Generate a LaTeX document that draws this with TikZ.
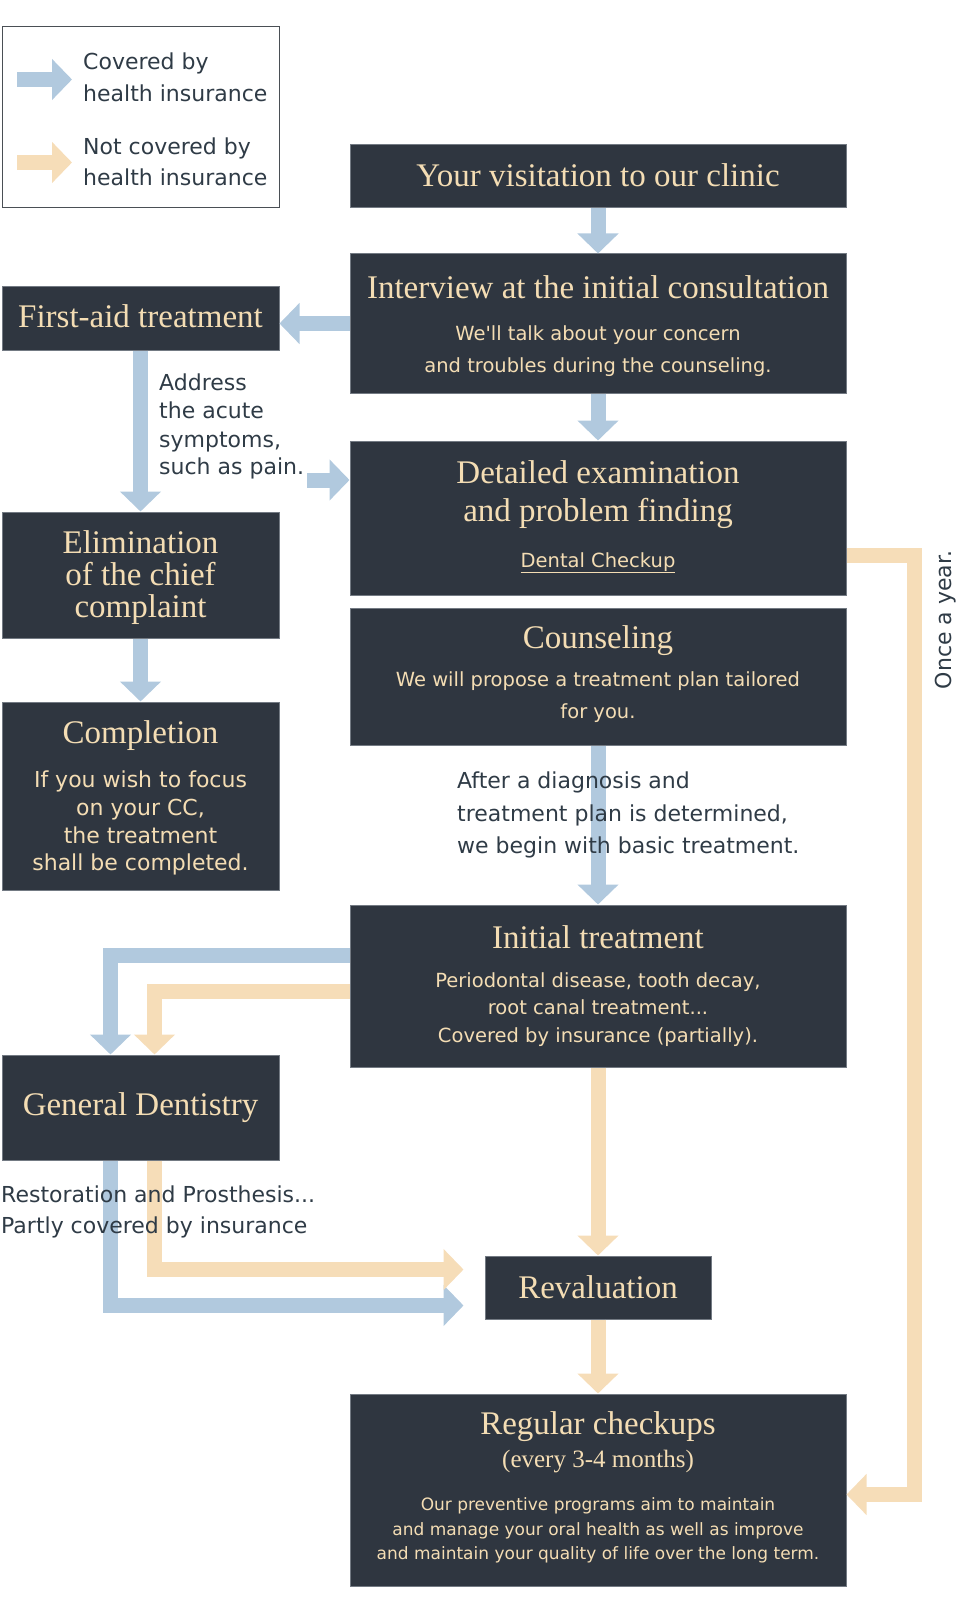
\documentclass[tikz,border=0pt]{standalone}
\usepackage{fontspec}
\setmainfont{Liberation Serif}
\newfontfamily\dvs{DejaVu Sans}
\usetikzlibrary{arrows.meta,calc}
\definecolor{boxfill}{HTML}{2F3640}
\definecolor{boxedge}{HTML}{737A83}
\definecolor{cream}{HTML}{F4DDB4}
\definecolor{ablue}{HTML}{B1C9DE}
\definecolor{aorange}{HTML}{F6DDB8}
\definecolor{darktext}{HTML}{2F3B46}
\definecolor{legendedge}{HTML}{4A4F55}
\begin{document}
\begin{tikzpicture}[x=1pt,y=-1pt,
  box/.style={draw=boxedge, line width=1pt, fill=boxfill, inner sep=0pt, rectangle},
  head/.style={text=cream, font=\fontsize{33}{33}\selectfont, anchor=base, inner sep=0pt},
  headsmall/.style={text=cream, font=\fontsize{25}{25}\selectfont, anchor=base, inner sep=0pt},
  subc/.style={text=cream, font=\dvs\fontsize{19.5}{19.5}\selectfont, anchor=base, inner sep=0pt},
  subbig/.style={text=cream, font=\dvs\fontsize{22}{22}\selectfont, anchor=base, inner sep=0pt},
  subsmall/.style={text=cream, font=\dvs\fontsize{17}{17}\selectfont, anchor=base, inner sep=0pt},
  note/.style={text=darktext, font=\dvs\fontsize{22}{22}\selectfont, anchor=base west, inner sep=0pt},
  barrow/.style={draw=ablue, line width=15pt, line join=miter, -{Triangle[width=40pt,length=20pt]}},
  oarrow/.style={draw=aorange, line width=15pt, line join=miter, -{Triangle[width=40pt,length=20pt]}}]
\useasboundingbox (0,0) rectangle (960,1613);

% legend
\node[draw=legendedge, line width=1pt, inner sep=0pt, minimum width=277pt, minimum height=181pt] (legend) at (140.5,117.5) {};
\coordinate (lbs) at (17,79.5);
\coordinate (lbe) at (72,79.5);
\coordinate (los) at (17,162.5);
\coordinate (loe) at (72,162.5);
\draw[barrow] (lbs) -- (lbe);
\draw[oarrow] (los) -- (loe);
\node[note] (lt1) at (83,70) {Covered by};
\node[note] (lt2) at (83,102) {health insurance};
\node[note] (lt3) at (83,155) {Not covered by};
\node[note] (lt4) at (83,186) {health insurance};

% boxes
\node[box, minimum width=496pt, minimum height=63pt] (visit) at (598,176.5) {};
\node[box, minimum width=496pt, minimum height=139pt] (interview) at (598,323.5) {};
\node[box, minimum width=277pt, minimum height=64pt] (firstaid) at (140.5,318) {};
\node[box, minimum width=496pt, minimum height=154pt] (detailed) at (598,518) {};
\node[box, minimum width=496pt, minimum height=137pt] (counsel) at (598,676.5) {};
\node[box, minimum width=277pt, minimum height=126pt] (elim) at (140.5,575) {};
\node[box, minimum width=277pt, minimum height=188pt] (complete) at (140.5,796) {};
\node[box, minimum width=496pt, minimum height=162pt] (initial) at (598,986) {};
\node[box, minimum width=277pt, minimum height=105pt] (gd) at (140.5,1107.5) {};
\node[box, minimum width=226pt, minimum height=63pt] (rev) at (598,1287.5) {};
\node[box, minimum width=496pt, minimum height=192pt] (regular) at (598,1490) {};

% box texts
\node[head] (visitt) at (598,187) {Your visitation to our clinic};
\node[head] (intt) at (598,298) {Interview at the initial consultation};
\node[subc] (ints1) at (598,340) {We'll talk about your concern};
\node[subc] (ints2) at (598,372) {and troubles during the counseling.};
\node[head] (fat) at (140.5,327) {First-aid treatment};
\node[head] (dett1) at (598,483) {Detailed examination};
\node[head] (dett2) at (598,521) {and problem finding};
\node[subc] (dets) at (598,567) {\underline{Dental Checkup}};
\node[head] (cout) at (598,648) {Counseling};
\node[subc] (cous1) at (598,686) {We will propose a treatment plan tailored};
\node[subc] (cous2) at (598,718) {for you.};
\node[head] (elt1) at (140.5,553) {Elimination};
\node[head] (elt2) at (140.5,585) {of the chief};
\node[head] (elt3) at (140.5,617) {complaint};
\node[head] (comt) at (140.5,743) {Completion};
\node[subbig] (coms1) at (140.5,787) {If you wish to focus};
\node[subbig] (coms2) at (140.5,815) {on your CC,};
\node[subbig] (coms3) at (140.5,843) {the treatment};
\node[subbig] (coms4) at (140.5,870) {shall be completed.};
\node[head] (init) at (598,948) {Initial treatment};
\node[subc] (inis1) at (598,987) {Periodontal disease, tooth decay,};
\node[subc] (inis2) at (598,1014) {root canal treatment...};
\node[subc] (inis3) at (598,1042) {Covered by insurance (partially).};
\node[head] (gdt) at (140.5,1115) {General Dentistry};
\node[head] (revt) at (598,1298) {Revaluation};
\node[head] (regt) at (598,1434) {Regular checkups};
\node[headsmall] (regt2) at (598,1467) {(every 3-4 months)};
\node[subsmall] (regs1) at (598,1510) {Our preventive programs aim to maintain};
\node[subsmall] (regs2) at (598,1535) {and manage your oral health as well as improve};
\node[subsmall] (regs3) at (598,1559) {and maintain your quality of life over the long term.};

% arrows
\draw[barrow] (visit.south) -- (interview.north);
\draw[barrow] (interview.west) -- (interview.west -| firstaid.east);
\draw[barrow] (interview.south) -- (detailed.north);
\draw[barrow] (firstaid.south) -- (elim.north);
\coordinate (addrstart) at (307,480);
\draw[barrow] (addrstart) -- (addrstart -| detailed.west);
\draw[barrow] (elim.south) -- (complete.north);
\draw[barrow] (counsel.south) -- (initial.north);
\draw[barrow] ([yshift=-51pt]initial.north west) -| ([xshift=-30pt]gd.north);
\draw[oarrow] ([yshift=-86.5pt]initial.north west) -| ([xshift=14pt]gd.north);
\coordinate (revblue) at ($(rev.west)+(-21,18)$);
\coordinate (revorange) at ($(rev.west)+(-21,-18)$);
\draw[barrow] ([xshift=-30pt]gd.south) |- (revblue);
\draw[oarrow] ([xshift=14pt]gd.south) |- (revorange);
\draw[oarrow] (initial.south) -- (rev.north);
\draw[oarrow] (rev.south) -- (regular.north);
\coordinate (yearturn) at (914.5,1494.5);
\draw[oarrow] ([yshift=-115pt]detailed.north east) -| (yearturn) -- (yearturn -| regular.east);

% annotations
\node[note] (addr1) at (159,390) {Address};
\node[note] (addr2) at (159,418) {the acute};
\node[note] (addr3) at (159,447) {symptoms,};
\node[note] (addr4) at (159,474) {such as pain.};
\node[note] (diag1) at (457,788) {After a diagnosis and};
\node[note] (diag2) at (457,821) {treatment plan is determined,};
\node[note] (diag3) at (457,853) {we begin with basic treatment.};
\node[note] (rest1) at (1,1202) {Restoration and Prosthesis...};
\node[note] (rest2) at (1,1233) {Partly covered by insurance};
\node[text=darktext, font=\dvs\fontsize{22}{22}\selectfont, rotate=90, anchor=base, inner sep=0pt] (once) at (951,620) {Once a year.};
\end{tikzpicture}
\end{document}
